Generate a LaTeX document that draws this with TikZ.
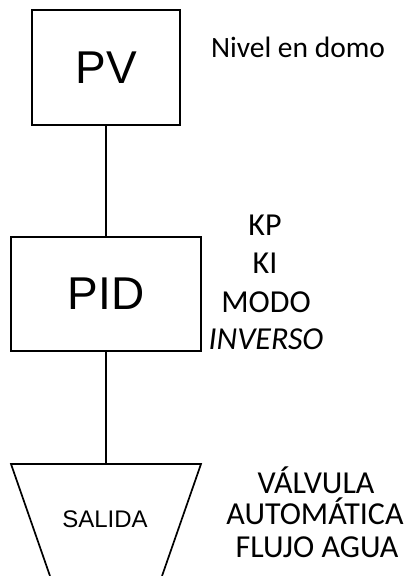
\documentclass[tikz,border=0pt]{standalone}
\usepackage{fontspec}
\setmainfont{Carlito}
\newfontfamily\arialf{Liberation Sans}
\begin{document}
\begin{tikzpicture}[x=1pt,y=1pt,
  blk/.style={draw=black,line width=1.7pt,fill=white,inner sep=0pt,font=\arialf\fontsize{46}{52}\selectfont},
  conn/.style={draw=black,line width=1.9pt},
  lbl/.style={anchor=base,inner sep=0pt,font=\fontsize{32}{36}\selectfont}]
\useasboundingbox (0,0) rectangle (414,576);
\clip (0,0) rectangle (414,576);
% blocks
\node[blk,minimum width=148pt,minimum height=115pt] (pv) at (106,508.5) {PV};
\node[blk,minimum width=190pt,minimum height=114pt] (pid) at (106,282) {PID};
% trapezoid (valve output)
\coordinate (tl) at (11,112);
\coordinate (tr) at (201,112);
\coordinate (bl) at (50,0);
\coordinate (br) at (162,0);
\coordinate (ttop) at (106,112);
\draw[line width=1.7pt,line join=miter] (bl) -- (tl) -- (tr) -- (br);
\node[anchor=base,inner sep=0pt,font=\arialf\fontsize{24}{28}\selectfont] (salida) at (105,48) {SALIDA};
% connectors
\draw[conn] (pv.south) -- (pid.north);
\draw[conn] (pid.south) -- (ttop);
% labels
\node[lbl,font=\fontsize{29.5}{34}\selectfont] (niv) at (298,518) {Nivel en domo};
\node[lbl] (kp) at (265,340) {KP};
\node[lbl] (ki) at (265,302) {KI};
\node[lbl] (modo) at (266,263) {MODO};
\node[lbl] (inv) at (266,226) {\itshape INVERSO};
\node[lbl] (valv) at (316,82) {VÁLVULA};
\node[lbl] (auto) at (315,51) {AUTOMÁTICA};
\node[lbl] (flujo) at (317,19) {FLUJO AGUA};
\end{tikzpicture}
\end{document}
